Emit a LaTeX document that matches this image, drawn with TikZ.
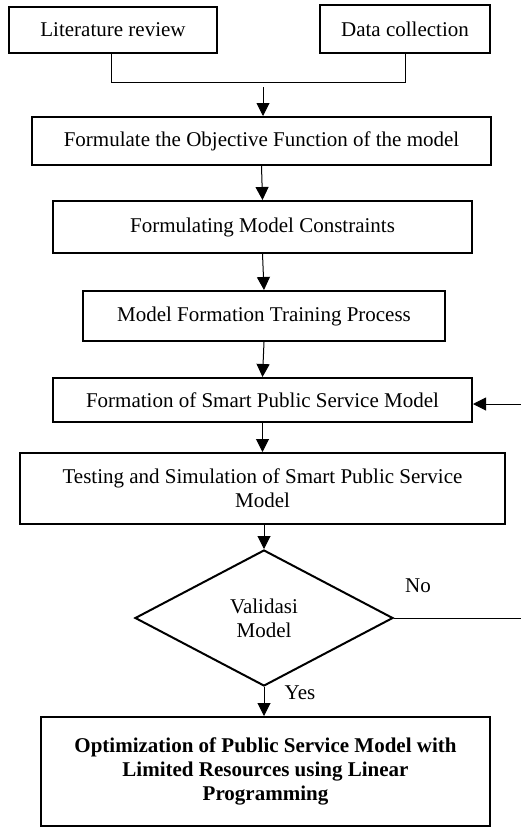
\documentclass[tikz,border=0pt]{standalone}
\usepackage{fontspec}
\setmainfont{Liberation Serif}
\usetikzlibrary{arrows.meta,shapes.geometric}

\begin{document}
\begin{tikzpicture}[x=1pt,y=-1pt,
  font=\fontsize{21}{24}\selectfont,
  box/.style={draw, line width=2pt, inner sep=0pt, align=center},
  arr/.style={line width=1pt, -{Triangle[width=13pt,length=13pt]}},
  link/.style={line width=1pt}]
\useasboundingbox (0,0) rectangle (521,827);
\node[box, minimum width=208pt, minimum height=46pt] (lit) at (113,30) {Literature review};
\node[box, minimum width=170pt, minimum height=48pt] (data) at (405,29) {Data collection};
\node[box, minimum width=459pt, minimum height=48pt] (obj) at (261.5,141) {Formulate the Objective Function of the model};
\node[box, minimum width=419pt, minimum height=52pt] (cons) at (262.5,227) {Formulating Model Constraints};
\node[box, minimum width=362pt, minimum height=50pt] (train) at (264,316) {Model Formation Training Process};
\node[box, minimum width=419pt, minimum height=44pt] (form) at (262.5,400) {Formation of Smart Public Service Model};
\node[box, minimum width=485pt, minimum height=71pt] (test) at (262.5,488.5) {Testing and Simulation of Smart Public Service\\Model};
\node[box, diamond, aspect=1.9, minimum width=258pt, minimum height=136pt] (valid) at (264,618) {Validasi\\Model};
\node[box, minimum width=449pt, minimum height=109pt, font=\fontsize{21}{24}\selectfont\bfseries] (opt) at (265.5,771.5) {Optimization of Public Service Model with\\Limited Resources using Linear\\Programming};
\coordinate (merge) at (263,87);
\coordinate (back) at (521,404);
\coordinate (noend) at (521,618);
\draw[link] (lit.south -| 111,0) -- (111,82) -| (data.south);
\draw[arr] (merge) -- (merge |- obj.north);
\draw[arr] (obj.south) -- (cons.north);
\draw[arr] (cons.south) -- (train.north);
\draw[arr] (train.south) -- (form.north);
\draw[arr] (back) -- (back -| form.east);
\draw[arr] (form.south) -- (test.north -| form.south);
\draw[arr] (test.south -| valid.north) -- (valid.north);
\draw[link] (valid.east) -- (noend);
\draw[arr] (valid.south) -- (valid.south |- opt.north);
\node (no) at (418,586) {No};
\node (yes) at (300,693) {Yes};
\end{tikzpicture}
\end{document}
